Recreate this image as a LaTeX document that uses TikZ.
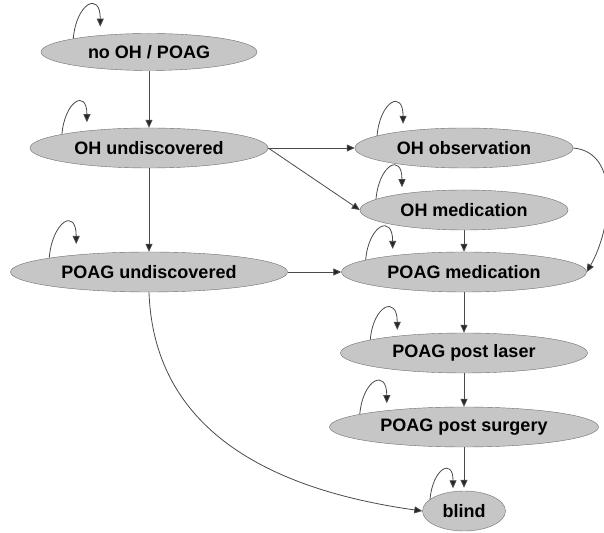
\documentclass[tikz,border=0pt]{standalone}
\usepackage{fontspec}
\setmainfont{Liberation Sans}
\usetikzlibrary{shapes.geometric,arrows.meta}
\definecolor{statefill}{HTML}{C6C6C6}
\definecolor{stateline}{HTML}{6E6E6E}
\definecolor{edgeline}{HTML}{4A4A4A}

\begin{document}
\begin{tikzpicture}[x=1pt,y=1pt,
  state/.style={draw=stateline, fill=statefill, ellipse, inner sep=0pt, minimum height=40pt,
    text=black, font=\bfseries\fontsize{18}{20}\selectfont},
  edge/.style={draw=edgeline, line width=0.8pt, -{Triangle[length=8pt,width=7pt,fill=black!85]}},
  selfloop/.style={edge, out=85, in=90, looseness=3.1}]
\useasboundingbox (0,0) rectangle (604,532);
\node[state, minimum width=216pt, minimum height=37pt] (noOH) at (149,480) {no OH / POAG};
\node[state, minimum width=238pt] (OHund) at (149,384) {OH undiscovered};
\node[state, minimum width=277pt] (POAGund) at (149,260) {POAG undiscovered};
\node[state, minimum width=218pt] (OHobs) at (464,384) {OH observation};
\node[state, minimum width=208pt] (OHmed) at (464,322) {OH medication};
\node[state, minimum width=245pt] (POAGmed) at (464,260) {POAG medication};
\node[state, minimum width=247pt] (laser) at (464,179) {POAG post laser};
\node[state, minimum width=269pt] (surgery) at (464,105) {POAG post surgery};
\node[state, minimum width=83pt] (blind) at (464,21) {blind};
% transitions
\draw (noOH.south) to (OHund.north) [edge];
\draw (OHund.south) to (POAGund.north) [edge];
\draw (OHund.east) to (OHobs.west) [edge];
\draw (OHund.east) to (OHmed.west) [edge];
\draw (POAGund.east) to (POAGmed.west) [edge];
\draw (OHmed.south) to (POAGmed.north) [edge];
\draw (POAGmed.south) to (laser.north) [edge];
\draw (laser.south) to (surgery.north) [edge];
\draw (surgery.south) to (blind.north) [edge, shorten >=3pt];
\draw[edge] (OHobs.east) to[out=-5, in=60] (POAGmed.east);
\draw[edge] (POAGund.south) to[out=-88, in=172, looseness=1.05] (blind.west);
% staying in the same state
\draw[selfloop] (noOH.170) to +(27,12);
\draw[selfloop] (OHund.171) to +(25,12);
\draw[selfloop] (POAGund.172) to +(27,14);
\draw[selfloop] (OHobs.172) to +(26,12);
\draw[selfloop] (OHmed.173) to +(26,12);
\draw[selfloop] (POAGmed.173) to +(27,11);
\draw[selfloop] (laser.172) to +(27,10);
\draw[selfloop] (surgery.173) to +(27,11);
\draw[selfloop] (blind.161) to +(23,11);
\end{tikzpicture}
\end{document}
